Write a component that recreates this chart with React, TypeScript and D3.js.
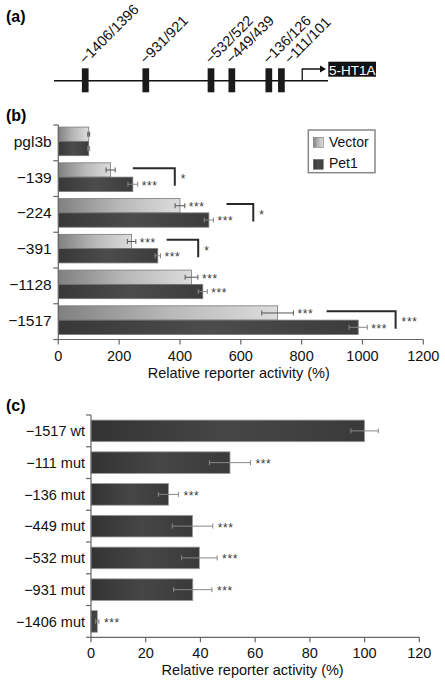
import React from "react";
import * as d3 from "d3";

const W = 445;
const H = 684;
const FONT = "'Liberation Sans', Arial, Helvetica, sans-serif";

// ---------- panel (a): promoter schematic ----------
const siteLabels = ["−1406/1396", "−931/921", "−532/522", "−449/439", "−136/126", "−111/101"];
const sitePos = [11.4, 33.5, 57.3, 64.9, 78.4, 83.0]; // schematic position (% of line)
const siteLabelShift = [0, 0, 0, 0, 0, 3.2];
const tssPos = 90.6;
const geneName = "5-HT1A";

// ---------- panel (b) ----------
const constructsB = ["pgl3b", "−139", "−224", "−391", "−1128", "−1517"];
const vectorVals = [100, 172, 400, 241, 438, 721];
const vectorErr = [3, 15, 16, 14, 21, 52];
const vectorStars = ["", "", "***", "***", "***", "***"];
const pet1Vals = [100, 245, 495, 327, 475, 986];
const pet1Err = [3, 16, 15, 9, 15, 30];
const pet1Stars = ["", "***", "***", "***", "***", "***"];
const seriesNames = ["Vector", "Pet1"];
const ticksB = [0, 200, 400, 600, 800, 1000, 1200];
const compGroups = ["−139", "−224", "−391", "−1517"];
const compFrom = [245, 553, 356, 882];
const compTo = [383, 641, 460, 1109];
const compStars = ["*", "*", "*", "***"];
const axisTitle = "Relative reporter activity (%)";

// ---------- panel (c) ----------
const constructsC = ["−1517 wt", "−111 mut", "−136 mut", "−449 mut", "−532 mut", "−931 mut", "−1406 mut"];
const valsC = [100, 50.8, 28.3, 37.1, 39.6, 37.2, 2.3];
const errC = [5, 7.5, 3.7, 7.4, 6.5, 7, 0.6];
const starsC = ["", "***", "***", "***", "***", "***", "***"];
const ticksC = [0, 20, 40, 60, 80, 100, 120];

export default function App() {
  // scales
  const xa = d3.scaleLinear().domain([0, 100]).range([54, 328]);
  const lineY = 80.7;

  const xb = d3.scaleLinear().domain([0, 1200]).range([58.3, 423.3]);
  const yb = d3.scaleBand<string>().domain(constructsB).range([125, 339.5]).paddingInner(0.2).paddingOuter(0.1);
  const stepB = yb.step();
  const bwB = yb.bandwidth();
  const halfB = bwB / 2;
  const bOffset = -1.5;

  const xc = d3.scaleLinear().domain([0, 120]).range([91, 419.3]);
  const yc = d3.scaleBand<string>().domain(constructsC).range([415, 637.3]).paddingInner(0.32).paddingOuter(0.16);
  const stepC = yc.step();
  const bwC = yc.bandwidth();

  const axisColor = "#666";
  const starSize = 12;
  const starColor = "#3a3a3a";

  const errBar = (x0: number, x1: number, y: number, color: string, key: string) => (
    <g key={key} stroke={color} strokeWidth={1}>
      <line x1={x0} x2={x1} y1={y} y2={y} />
      <line x1={x0} x2={x0} y1={y - 2.5} y2={y + 2.5} />
      <line x1={x1} x2={x1} y1={y - 2.5} y2={y + 2.5} />
    </g>
  );

  const stars = (x: number, y: number, s: string, key: string) => (
    <text key={key} x={x} y={y + starSize * 0.45} fontSize={starSize} fill={starColor} letterSpacing={0.6}>{s}</text>
  );

  return (
    <svg
      width={W}
      height={H}
      style={{ position: "absolute", left: 0, top: 0, background: "#fff" }}
      fontFamily={FONT}
    >
      <defs>
        <linearGradient id="gVec" x1="0" x2="1" y1="0" y2="0">
          <stop offset="0" stopColor="#808080" />
          <stop offset="0.5" stopColor="#b8b8b8" />
          <stop offset="1" stopColor="#dcdcdc" />
        </linearGradient>
        <linearGradient id="gPet" x1="0" x2="1" y1="0" y2="0">
          <stop offset="0" stopColor="#383838" />
          <stop offset="0.5" stopColor="#4c4c4c" />
          <stop offset="1" stopColor="#3c3c3c" />
        </linearGradient>
        <linearGradient id="gC" x1="0" x2="1" y1="0" y2="0">
          <stop offset="0" stopColor="#333" />
          <stop offset="0.5" stopColor="#464646" />
          <stop offset="1" stopColor="#3a3a3a" />
        </linearGradient>
      </defs>

      {/* ---------------- panel (a) ---------------- */}
      <text x={6} y={22} fontSize={16} fontWeight="bold">(a)</text>
      <line x1={xa(0)} x2={xa(100)} y1={lineY} y2={lineY} stroke="#111" strokeWidth={1.5} />
      {sitePos.map((p, i) => (
        <g key={"site" + i}>
          <rect x={xa(p) - 3.35} y={lineY - 12.4} width={6.7} height={24} fill="#1a1a1a" />
          <text
            transform={`translate(${xa(p + siteLabelShift[i])},${lineY - 16}) rotate(-45)`}
            fontSize={14.5}
            fill="#111"
          >
            {siteLabels[i]}
          </text>
        </g>
      ))}
      <path
        d={`M${xa(tssPos)},${lineY} V${lineY - 11.7} H${xa(100) - 6}`}
        fill="none"
        stroke="#111"
        strokeWidth={1.3}
      />
      <path
        d={`M${xa(100) - 2},${lineY - 11.7} l-6,-3.5 v7 z`}
        fill="#111"
      />
      <rect x={xa(100) + 0.3} y={61.7} width={47.7} height={15} fill="#111" />
      <text x={xa(100) + 24.2} y={75} fontSize={13.5} fill="#fff" textAnchor="middle">{geneName}</text>

      {/* ---------------- panel (b) ---------------- */}
      <text x={6} y={121} fontSize={16} fontWeight="bold">(b)</text>
      {constructsB.map((g, i) => {
        const y0 = (yb(g) as number) + bOffset;
        const yv = y0;
        const yp = y0 + halfB;
        const ve0 = xb(vectorVals[i] - vectorErr[i]);
        const ve1 = xb(vectorVals[i] + vectorErr[i]);
        const pe0 = xb(pet1Vals[i] - pet1Err[i]);
        const pe1 = xb(pet1Vals[i] + pet1Err[i]);
        return (
          <g key={"b" + g}>
            <rect x={xb(0)} y={yv} width={xb(vectorVals[i]) - xb(0)} height={halfB} fill="url(#gVec)" stroke="#7a7a7a" strokeWidth={0.8} />
            <rect x={xb(0)} y={yp} width={xb(pet1Vals[i]) - xb(0)} height={halfB} fill="url(#gPet)" stroke="#777" strokeWidth={0.8} />
            {errBar(ve0, ve1, yv + halfB / 2, "#555", "ev")}
            {errBar(pe0, pe1, yp + halfB / 2, "#888", "ep")}
            {vectorStars[i] && stars(ve1 + 4, yv + halfB / 2, vectorStars[i], "sv")}
            {pet1Stars[i] && stars(pe1 + 4, yp + halfB / 2, pet1Stars[i], "sp")}
            <text x={51.7} y={y0 + halfB + 5.5} fontSize={15.5} textAnchor="end" fill="#111">{g}</text>
          </g>
        );
      })}
      {/* comparison brackets */}
      {compGroups.map((g, i) => {
        const y0 = (yb(g) as number) - (stepB - bwB) / 2;
        const yTop = y0 + 7.5;
        const yBot = y0 + 25;
        const x0 = xb(compFrom[i]);
        const x1 = xb(compTo[i]);
        return (
          <g key={"cmp" + g}>
            <path d={`M${x0},${yTop} H${x1} V${yBot}`} fill="none" stroke="#2a2a2a" strokeWidth={2} />
            {stars(x1 + 6, (yTop + yBot) / 2 + 1, compStars[i], "sc")}
          </g>
        );
      })}
      {/* axes b */}
      <line x1={xb(0)} x2={xb(0)} y1={125} y2={339.5} stroke={axisColor} strokeWidth={1.2} />
      {d3.range(constructsB.length + 1).map((k) => (
        <line key={"tbl" + k} x1={xb(0) - 5} x2={xb(0)} y1={125 + k * stepB} y2={125 + k * stepB} stroke={axisColor} strokeWidth={1.2} />
      ))}
      <line x1={xb(0)} x2={xb(1200)} y1={339.5} y2={339.5} stroke={axisColor} strokeWidth={1.2} />
      {ticksB.map((t) => (
        <g key={"tb" + t}>
          <line x1={xb(t)} x2={xb(t)} y1={339.5} y2={344.5} stroke={axisColor} strokeWidth={1.2} />
          <text x={xb(t)} y={360.7} fontSize={14.5} textAnchor="middle" fill="#111">{t}</text>
        </g>
      ))}
      <text x={(xb(0) + xb(1200)) / 2 - 2} y={377.5} fontSize={14.5} textAnchor="middle" fill="#111">{axisTitle}</text>

      {/* legend */}
      <rect x={308.3} y={130} width={66.7} height={42.7} fill="#fff" stroke="#888" strokeWidth={1.5} />
      {seriesNames.map((s, i) => (
        <g key={"leg" + s}>
          <rect x={313.3} y={137.3 + i * 22} width={10} height={10} fill={i === 0 ? "url(#gVec)" : "url(#gPet)"} stroke="#777" strokeWidth={0.6} />
          <text x={329} y={147.3 + i * 20.5} fontSize={14} fill="#111">{s}</text>
        </g>
      ))}

      {/* ---------------- panel (c) ---------------- */}
      <text x={6} y={411} fontSize={16} fontWeight="bold">(c)</text>
      {constructsC.map((g, i) => {
        const y0 = yc(g) as number;
        const e0 = xc(valsC[i] - errC[i]);
        const e1 = xc(valsC[i] + errC[i]);
        const ym = y0 + bwC / 2;
        return (
          <g key={"c" + g}>
            <rect x={xc(0)} y={y0} width={xc(valsC[i]) - xc(0)} height={bwC} fill="url(#gC)" stroke="#999" strokeWidth={0.8} />
            {errBar(e0, e1, ym, "#888", "ec")}
            {starsC[i] && stars(e1 + 5, ym, starsC[i], "s")}
            <text x={85} y={ym + 5.2} fontSize={14.5} textAnchor="end" fill="#111">{g}</text>
          </g>
        );
      })}
      <line x1={xc(0)} x2={xc(0)} y1={415} y2={637.3} stroke={axisColor} strokeWidth={1.2} />
      {d3.range(constructsC.length + 1).map((k) => (
        <line key={"tcl" + k} x1={xc(0) - 5} x2={xc(0)} y1={415 + k * stepC} y2={415 + k * stepC} stroke={axisColor} strokeWidth={1.2} />
      ))}
      <line x1={xc(0)} x2={xc(120)} y1={637.3} y2={637.3} stroke={axisColor} strokeWidth={1.2} />
      {ticksC.map((t) => (
        <g key={"tc" + t}>
          <line x1={xc(t)} x2={xc(t)} y1={637.3} y2={642.3} stroke={axisColor} strokeWidth={1.2} />
          <text x={xc(t)} y={658.3} fontSize={14.5} textAnchor="middle" fill="#111">{t}</text>
        </g>
      ))}
      <text x={(xc(0) + xc(120)) / 2 - 2.5} y={674.5} fontSize={14.5} textAnchor="middle" fill="#111">{axisTitle}</text>
    </svg>
  );
}
